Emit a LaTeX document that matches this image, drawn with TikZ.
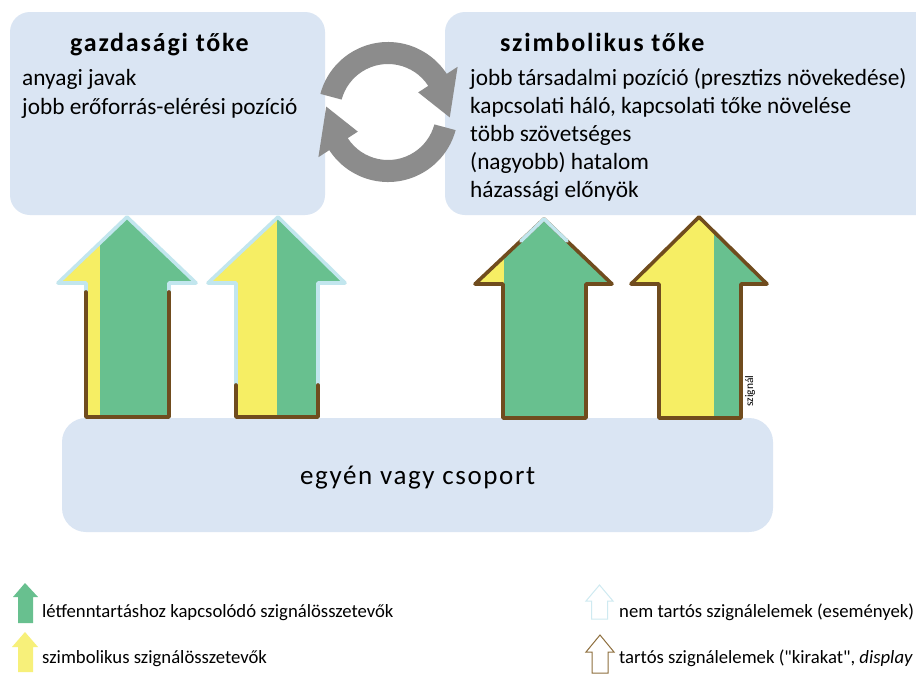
\documentclass[tikz,border=0pt]{standalone}
\usepackage{fontspec}
\setmainfont{Carlito}[Ligatures=TeXOff]
\begin{document}
\begin{tikzpicture}[x=1pt,y=-1pt,
  box/.style={fill=boxblue, rounded corners=20pt},
  txt/.style={anchor=base west, inner sep=0pt, font=\fontsize{23.3}{27}\selectfont},
  ttl/.style={anchor=base west, inner sep=0pt, font=\fontsize{26}{30}\selectfont\bfseries\addfontfeatures{LetterSpace=7}},
  lgd/.style={anchor=base west, inner sep=0pt, font=\fontsize{18.7}{22}\selectfont},
  blueline/.style={draw=lblue, line width=3.6pt, line join=round, line cap=round},
  brownline/.style={draw=brownc, line width=3.6pt, line join=round, line cap=round},
  cyc/.style={fill=grayc}
]
\definecolor{boxblue}{HTML}{DAE5F3}
\definecolor{greenc}{HTML}{68C08F}
\definecolor{yellowc}{HTML}{F6EE64}
\definecolor{lblue}{HTML}{C2E6EE}
\definecolor{brownc}{HTML}{704C1E}
\definecolor{grayc}{HTML}{8C8C8C}
\definecolor{lgyellow}{HTML}{F7F07A}
\definecolor{lgbrown}{HTML}{8E6F3E}
\definecolor{lgblue}{HTML}{CFEAF1}
\useasboundingbox (0,0) rectangle (916,673);
\clip (0,0) rectangle (916,673);
\fill[white] (0,0) rectangle (916,673);

% boxes
\fill[box] (10,12) rectangle (325,215);
\fill[box] (445,12) rectangle (940,215);
\fill[box, rounded corners=24pt] (62,418) rectangle (773,532);

% texts in boxes
\node[ttl] (t1) at (70,51) {gazdasági tőke};
\node[txt] (l1a) at (22,85) {anyagi javak};
\node[txt] (l1b) at (22,114) {jobb erőforrás-elérési pozíció};
\node[ttl] (t2) at (500,51) {szimbolikus tőke};
\node[txt] (l2a) at (470,85) {jobb társadalmi pozíció (presztizs növekedése)};
\node[txt] (l2b) at (470,113) {kapcsolati háló, kapcsolati tőke növelése};
\node[txt] (l2c) at (470,141) {több szövetséges};
\node[txt] (l2d) at (470,169) {(nagyobb) hatalom};
\node[txt] (l2e) at (470,197) {házassági előnyök};
\node[anchor=base west, inner sep=0pt, font=\fontsize{27}{31}\selectfont\addfontfeatures{LetterSpace=6}] (ind) at (300,484) {egyén vagy csoport};

% cycle arrows
\begin{scope}[shift={(388,112)}]
\fill[cyc] (-165:70) arc[start angle=-165, end angle=-33, radius=70]
  -- (-33:83) -- (5:62) -- (-33:36) -- (-33:48)
  arc[start angle=-33, end angle=-165, radius=48] -- cycle;
\fill[cyc] (15:70) arc[start angle=15, end angle=147, radius=70]
  -- (147:83) -- (185:62) -- (147:36) -- (147:48)
  arc[start angle=147, end angle=15, radius=48] -- cycle;
\end{scope}

% arrow 1
\begin{scope}
\clip (127,217) -- (196,283) -- (169,283) -- (169,417) -- (86,417) -- (86,283) -- (58,283) -- cycle;
\fill[yellowc] (50,210) rectangle (100,420);
\fill[greenc] (100,210) rectangle (200,420);
\end{scope}
\draw[blueline] (127,217) -- (196,283) -- (169,283) -- (169,417) -- (86,417) -- (86,283) -- (58,283) -- cycle;
\draw[brownline] (86,292) -- (86,417) -- (169,417) -- (169,292);

% arrow 2
\begin{scope}
\clip (278,217) -- (345,283) -- (318,283) -- (318,417) -- (236,417) -- (236,283) -- (208,283) -- cycle;
\fill[yellowc] (200,210) rectangle (277,420);
\fill[greenc] (277,210) rectangle (350,420);
\end{scope}
\draw[blueline] (278,217) -- (345,283) -- (318,283) -- (318,417) -- (236,417) -- (236,283) -- (208,283) -- cycle;
\draw[brownline] (236,385) -- (236,417) -- (318,417) -- (318,385);

% arrow 3
\begin{scope}
\clip (544,219) -- (612,284) -- (586,284) -- (586,418) -- (503,418) -- (503,284) -- (475,284) -- cycle;
\fill[yellowc] (470,210) rectangle (504,420);
\fill[greenc] (504,210) rectangle (620,420);
\end{scope}
\draw[brownline] (544,219) -- (612,284) -- (586,284) -- (586,418) -- (503,418) -- (503,284) -- (475,284) -- cycle;
\draw[blueline] (521,241) -- (544,219) -- (567,241);

% arrow 4
\begin{scope}
\clip (699,217) -- (767,284) -- (741,284) -- (741,418) -- (659,418) -- (659,284) -- (631,284) -- cycle;
\fill[yellowc] (620,210) rectangle (714,420);
\fill[greenc] (714,210) rectangle (770,420);
\end{scope}
\draw[brownline] (699,217) -- (767,284) -- (741,284) -- (741,418) -- (659,418) -- (659,284) -- (631,284) -- cycle;
\node[rotate=90, anchor=base west, inner sep=0pt, font=\fontsize{11.5}{13}\selectfont] (sz) at (753,407) {szignál};

% legend
\fill[greenc] (25,583) -- (38,597) -- (33,597) -- (33,623) -- (18,623) -- (18,597) -- (13,597) -- cycle;
\node[lgd] (lg1) at (42,617) {létfenntartáshoz kapcsolódó szignálösszetevők};
\fill[lgyellow] (25,632) -- (38,647) -- (33,647) -- (33,672) -- (18,672) -- (18,647) -- (12,647) -- cycle;
\node[lgd] (lg2) at (42,663) {szimbolikus szignálösszetevők};
\draw[lgblue, line width=1pt] (599.5,585) -- (613,601) -- (607.5,601) -- (607.5,619) -- (591.5,619) -- (591.5,601) -- (586,601) -- cycle;
\node[lgd] (lg3) at (619,617) {nem tartós szignálelemek (események)};
\draw[lgbrown, line width=1pt] (600,635) -- (614,652) -- (608,652) -- (608,673) -- (592,673) -- (592,652) -- (586,652) -- cycle;
\node[lgd] (lg4) at (619,663) {tartós szignálelemek ("kirakat", \textit{display}};
\end{tikzpicture}
\end{document}
